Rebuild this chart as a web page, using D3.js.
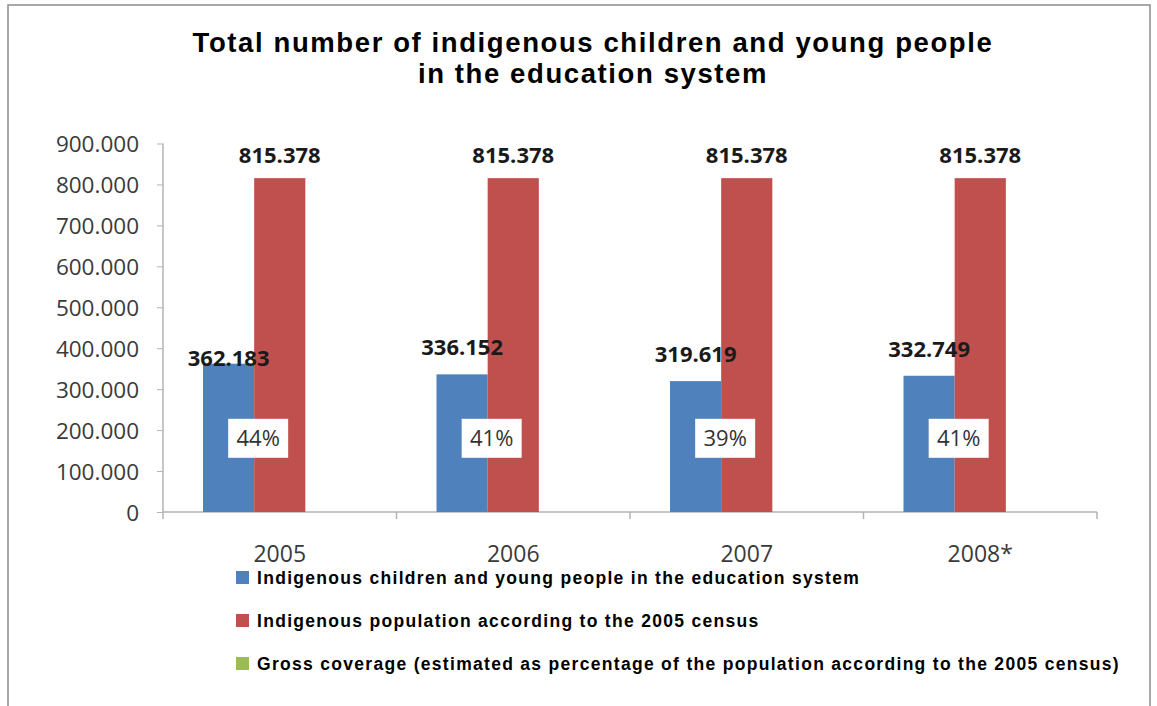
<!DOCTYPE html>
<html>
<head>
<meta charset="utf-8">
<script src="https://cdn.jsdelivr.net/npm/d3@7"></script>
<style>
  body { margin: 0; background: #fff; }
  svg { display: block; }
</style>
</head>
<body>
<div id="container"></div>
<script>
/* CONSTANTS AND GLOBALS */
const width = 1157,
      height = 706,
      margin = {top: 143.5, bottom: 194, left: 163, right: 60};

// data
const years = ["2005", "2006", "2007", "2008*"];
const enrolled = [362183, 336152, 319619, 332749];
const population = [815378, 815378, 815378, 815378];
const coverage = [0.44, 0.41, 0.39, 0.41];
const yTicks = [0, 100000, 200000, 300000, 400000, 500000, 600000, 700000, 800000, 900000];

const seriesNames = [
  "Indigenous children and young people in the education system",
  "Indigenous population according to the 2005 census",
  "Gross coverage (estimated as percentage of the population according to the 2005 census)"
];
const seriesColors = ["#4F81BD", "#C0504D", "#9BBB59"];

// dotted thousands like the original: 815.378
const fmt = d3.formatLocale({decimal: ",", thousands: ".", grouping: [3]}).format(",d");
const pct = d3.format(".0%");

const svg = d3.select("#container").append("svg")
  .attr("width", width)
  .attr("height", height);

// outer frame of the chart object
svg.append("rect")
  .attr("x", 8).attr("y", 5)
  .attr("width", 1142).attr("height", 720)
  .attr("fill", "#fff")
  .attr("stroke", "#8c8c8c")
  .attr("stroke-width", 1.5);

/* TITLE */
const title = svg.append("text")
  .attr("text-anchor", "middle")
  .attr("font-family", "Liberation Sans, Arial, sans-serif")
  .attr("font-weight", "bold")
  .attr("font-size", 27.5)
  .attr("letter-spacing", 1.6)
  .attr("fill", "#000");
title.append("tspan").attr("x", 593).attr("y", 52)
  .text("Total number of indigenous children and young people");
title.append("tspan").attr("x", 593).attr("y", 83)
  .text("in the education system");

/* SCALES */
const xScale = d3.scaleBand()
  .domain(years)
  .range([margin.left, width - margin.right])
  .paddingInner(0.3426)
  .paddingOuter(0.1713);

const xSub = d3.scaleBand()
  .domain([0, 1, 2])
  .range([0, xScale.bandwidth()]);

const yScale = d3.scaleLinear()
  .domain([0, 900000])
  .range([height - margin.bottom, margin.top]);

const step = xScale.step();
const edge = d => xScale(d) - xScale.paddingInner() * step / 2;

/* AXES */
const yAxis = d3.axisLeft(yScale)
  .tickValues(yTicks)
  .tickSize(6)
  .tickPadding(18)
  .tickFormat(d => d === 0 ? "0" : fmt(d));

const yAxisGroup = svg.append("g")
  .attr("transform", `translate(${margin.left},0)`)
  .call(yAxis);
yAxisGroup.select(".domain").remove();
yAxisGroup.selectAll("line").attr("stroke", "#b3b3b3");
yAxisGroup.selectAll("text")
  .attr("font-family", "Open Sans, sans-serif")
  .attr("font-size", 22.5)
  .attr("fill", "#3a3a3a")
  .attr("dy", "0.36em");

const axisColor = "#b3b3b3";
// vertical axis line, running slightly below the baseline
svg.append("line")
  .attr("x1", margin.left).attr("x2", margin.left)
  .attr("y1", yScale(900000)).attr("y2", yScale(0) + 7)
  .attr("stroke", axisColor).attr("stroke-width", 1.5);
// baseline
svg.append("line")
  .attr("x1", margin.left).attr("x2", width - margin.right)
  .attr("y1", yScale(0)).attr("y2", yScale(0))
  .attr("stroke", axisColor).attr("stroke-width", 1.5);
// category boundary ticks
const bounds = years.map(edge).concat([width - margin.right]);
svg.selectAll("line.xtick")
  .data(bounds.slice(1))
  .join("line")
  .attr("class", "xtick")
  .attr("x1", d => d).attr("x2", d => d)
  .attr("y1", yScale(0)).attr("y2", yScale(0) + 7)
  .attr("stroke", axisColor).attr("stroke-width", 1.5);

svg.selectAll("text.xlabel")
  .data(years)
  .join("text")
  .attr("class", "xlabel")
  .attr("x", d => xScale(d) + xScale.bandwidth() / 2)
  .attr("y", yScale(0) + 50)
  .attr("text-anchor", "middle")
  .attr("font-family", "Open Sans, sans-serif")
  .attr("font-size", 23)
  .attr("fill", "#3a3a3a")
  .text(d => d);

/* BARS */
const rows = years.map((y, i) => ({year: y, values: [enrolled[i], population[i], coverage[i]], pct: coverage[i]}));

const groups = svg.selectAll("g.year")
  .data(rows)
  .join("g")
  .attr("class", "year")
  .attr("transform", d => `translate(${xScale(d.year)},0)`);

groups.selectAll("rect.bar")
  .data(d => d.values.map((v, k) => ({k, v})))
  .join("rect")
  .attr("class", "bar")
  .attr("x", d => xSub(d.k))
  .attr("width", xSub.bandwidth())
  .attr("y", d => yScale(d.v))
  .attr("height", d => yScale(0) - yScale(d.v))
  .attr("fill", d => seriesColors[d.k]);

// value labels over the blue and red bars (2005 label sits lower in the original)
const labelNudge = {"2005": 21};
groups.selectAll("text.val")
  .data(d => d.values.slice(0, 2).map((v, k) => ({k, v, year: d.year})))
  .join("text")
  .attr("class", "val")
  .attr("x", d => xSub(d.k) + xSub.bandwidth() / 2)
  .attr("y", d => yScale(d.v) - (d.k === 0 ? 19 - (labelNudge[d.year] || 0) : 15))
  .attr("text-anchor", "middle")
  .attr("font-family", "Open Sans, sans-serif")
  .attr("font-weight", "bold")
  .attr("font-size", 22)
  .attr("fill", "#1a1a1a")
  .text(d => fmt(d.v));

// coverage labels in white boxes
const boxW = 60, boxH = 39, boxLevel = 180000;
const pctG = groups.append("g")
  .attr("transform", d => `translate(${xSub(1) + 4},${yScale(boxLevel)})`);
pctG.append("rect")
  .attr("x", -boxW / 2).attr("y", -boxH / 2)
  .attr("width", boxW).attr("height", boxH)
  .attr("fill", "#fff");
pctG.append("text")
  .attr("text-anchor", "middle")
  .attr("dy", "0.36em")
  .attr("font-family", "Open Sans, sans-serif")
  .attr("font-size", 22)
  .attr("fill", "#333")
  .text(d => pct(d.pct));

/* LEGEND */
const legend = svg.selectAll("g.legend")
  .data(seriesNames)
  .join("g")
  .attr("class", "legend")
  .attr("transform", (d, i) => `translate(236,${578 + i * 43})`);
legend.append("rect")
  .attr("x", 0).attr("y", -7)
  .attr("width", 13).attr("height", 13)
  .attr("fill", (d, i) => seriesColors[i]);
legend.append("text")
  .attr("x", 21).attr("y", 6)
  .attr("font-family", "Liberation Sans, Arial, sans-serif")
  .attr("font-weight", "bold")
  .attr("font-size", 17.5)
  .attr("letter-spacing", 1.3)
  .attr("fill", "#000")
  .text(d => d);
</script>
</body>
</html>
